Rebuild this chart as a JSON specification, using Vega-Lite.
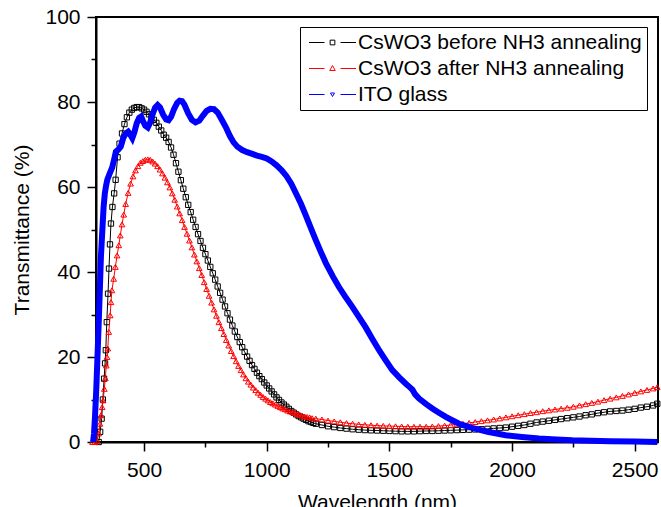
{
  "$schema": "https://vega.github.io/schema/vega-lite/v6.json",
  "width": 562,
  "height": 425,
  "autosize": "none",
  "padding": {"left": 96, "top": 17, "right": 3, "bottom": 65},
  "config": {
    "font": "Liberation Sans",
    "view": {"stroke": "black", "strokeWidth": 2},
    "axis": {
      "domainColor": "black", "domainWidth": 2, "tickColor": "black", "tickWidth": 1.5,
      "labelFont": "Liberation Sans", "labelFontSize": 21, "labelColor": "black",
      "titleFont": "Liberation Sans", "titleFontSize": 21, "titleFontWeight": "normal", "titleColor": "black",
      "grid": false, "labelOverlap": false, "labelFlush": false
    }
  },
  "data": {"values": [
    {"s":"b","w":315,"t":0},{"s":"b","w":321,"t":2.4},{"s":"b","w":327,"t":5.5},{"s":"b","w":332,"t":10},{"s":"b","w":337,"t":14.9},{"s":"b","w":341,"t":18.5},{"s":"b","w":344,"t":21.6},{"s":"b","w":348,"t":28.2},{"s":"b","w":353,"t":34.9},{"s":"b","w":357,"t":40.8},{"s":"b","w":361,"t":46.5},{"s":"b","w":365,"t":51.4},{"s":"b","w":371,"t":55.3},{"s":"b","w":378,"t":58.5},{"s":"b","w":384,"t":61.7},{"s":"b","w":392,"t":67},{"s":"b","w":400,"t":70.2},{"s":"b","w":410,"t":72.6},{"s":"b","w":420,"t":74.8},{"s":"b","w":430,"t":76.4},{"s":"b","w":440,"t":77.5},{"s":"b","w":450,"t":78.2},{"s":"b","w":460,"t":78.6},{"s":"b","w":470,"t":78.8},{"s":"b","w":480,"t":78.8},{"s":"b","w":490,"t":78.5},{"s":"b","w":500,"t":78.2},{"s":"b","w":510,"t":77.7},{"s":"b","w":520,"t":77.1},{"s":"b","w":530,"t":76.5},{"s":"b","w":540,"t":75.8},{"s":"b","w":550,"t":75.1},{"s":"b","w":560,"t":74.2},{"s":"b","w":570,"t":73.3},{"s":"b","w":580,"t":72.3},{"s":"b","w":590,"t":71.6},{"s":"b","w":600,"t":70.6},{"s":"b","w":610,"t":69.3},{"s":"b","w":620,"t":67.6},{"s":"b","w":630,"t":65.6},{"s":"b","w":640,"t":63.6},{"s":"b","w":650,"t":61.6},{"s":"b","w":660,"t":59.6},{"s":"b","w":670,"t":57.6},{"s":"b","w":680,"t":55.8},{"s":"b","w":690,"t":54.1},{"s":"b","w":700,"t":52.3},{"s":"b","w":710,"t":50.6},{"s":"b","w":720,"t":48.9},{"s":"b","w":730,"t":47.3},{"s":"b","w":740,"t":45.7},{"s":"b","w":750,"t":44.2},{"s":"b","w":760,"t":42.7},{"s":"b","w":770,"t":41.2},{"s":"b","w":780,"t":39.7},{"s":"b","w":790,"t":38.2},{"s":"b","w":800,"t":36.6},{"s":"b","w":810,"t":35.1},{"s":"b","w":820,"t":33.5},{"s":"b","w":830,"t":31.9},{"s":"b","w":840,"t":30.3},{"s":"b","w":850,"t":28.8},{"s":"b","w":860,"t":27.4},{"s":"b","w":870,"t":26},{"s":"b","w":880,"t":24.7},{"s":"b","w":890,"t":23.5},{"s":"b","w":900,"t":22.3},{"s":"b","w":910,"t":21.2},{"s":"b","w":920,"t":20.1},{"s":"b","w":930,"t":19.1},{"s":"b","w":940,"t":18.1},{"s":"b","w":950,"t":17.2},{"s":"b","w":960,"t":16.3},{"s":"b","w":970,"t":15.5},{"s":"b","w":980,"t":14.8},{"s":"b","w":990,"t":14},{"s":"b","w":1000,"t":13.3},{"s":"b","w":1010,"t":12.6},{"s":"b","w":1020,"t":11.9},{"s":"b","w":1030,"t":11.2},{"s":"b","w":1040,"t":10.5},{"s":"b","w":1050,"t":9.9},{"s":"b","w":1060,"t":9.3},{"s":"b","w":1070,"t":8.8},{"s":"b","w":1080,"t":8.3},{"s":"b","w":1090,"t":7.8},{"s":"b","w":1100,"t":7.3},{"s":"b","w":1110,"t":6.9},{"s":"b","w":1120,"t":6.5},{"s":"b","w":1130,"t":6.1},{"s":"b","w":1140,"t":5.8},{"s":"b","w":1150,"t":5.5},{"s":"b","w":1160,"t":5.2},{"s":"b","w":1170,"t":4.9},{"s":"b","w":1180,"t":4.7},{"s":"b","w":1190,"t":4.5},{"s":"b","w":1200,"t":4.3},{"s":"b","w":1225,"t":4},{"s":"b","w":1250,"t":3.7},{"s":"b","w":1275,"t":3.5},{"s":"b","w":1300,"t":3.3},{"s":"b","w":1325,"t":3.15},{"s":"b","w":1350,"t":3},{"s":"b","w":1375,"t":2.9},{"s":"b","w":1400,"t":2.8},{"s":"b","w":1425,"t":2.75},{"s":"b","w":1450,"t":2.7},{"s":"b","w":1475,"t":2.65},{"s":"b","w":1500,"t":2.6},{"s":"b","w":1525,"t":2.55},{"s":"b","w":1550,"t":2.5},{"s":"b","w":1575,"t":2.5},{"s":"b","w":1600,"t":2.5},{"s":"b","w":1625,"t":2.55},{"s":"b","w":1650,"t":2.6},{"s":"b","w":1675,"t":2.6},{"s":"b","w":1700,"t":2.65},{"s":"b","w":1725,"t":2.7},{"s":"b","w":1750,"t":2.75},{"s":"b","w":1775,"t":2.8},{"s":"b","w":1800,"t":2.85},{"s":"b","w":1825,"t":2.9},{"s":"b","w":1850,"t":2.95},{"s":"b","w":1875,"t":3},{"s":"b","w":1900,"t":3.1},{"s":"b","w":1925,"t":3.2},{"s":"b","w":1950,"t":3.3},{"s":"b","w":1975,"t":3.4},{"s":"b","w":2000,"t":3.6},{"s":"b","w":2025,"t":3.8},{"s":"b","w":2050,"t":4},{"s":"b","w":2075,"t":4.3},{"s":"b","w":2100,"t":4.6},{"s":"b","w":2125,"t":4.8},{"s":"b","w":2150,"t":5},{"s":"b","w":2175,"t":5.2},{"s":"b","w":2200,"t":5.4},{"s":"b","w":2225,"t":5.6},{"s":"b","w":2250,"t":5.8},{"s":"b","w":2275,"t":6},{"s":"b","w":2300,"t":6.3},{"s":"b","w":2325,"t":6.5},{"s":"b","w":2350,"t":6.8},{"s":"b","w":2375,"t":7},{"s":"b","w":2400,"t":7.2},{"s":"b","w":2425,"t":7.3},{"s":"b","w":2450,"t":7.4},{"s":"b","w":2475,"t":7.6},{"s":"b","w":2500,"t":7.8},{"s":"b","w":2525,"t":8.1},{"s":"b","w":2550,"t":8.3},{"s":"b","w":2575,"t":8.6},{"s":"b","w":2592,"t":9},
    {"s":"a","w":290,"t":0},{"s":"a","w":300,"t":0},{"s":"a","w":308,"t":0.3},{"s":"a","w":315,"t":2},{"s":"a","w":320,"t":4.3},{"s":"a","w":324,"t":6.3},{"s":"a","w":329,"t":8.2},{"s":"a","w":333,"t":9.8},{"s":"a","w":338,"t":12.5},{"s":"a","w":342,"t":15},{"s":"a","w":346,"t":18},{"s":"a","w":349,"t":20},{"s":"a","w":352,"t":22},{"s":"a","w":356,"t":25.9},{"s":"a","w":362,"t":29.8},{"s":"a","w":365,"t":32.9},{"s":"a","w":369,"t":35.7},{"s":"a","w":376,"t":38.4},{"s":"a","w":383,"t":41.2},{"s":"a","w":390,"t":43.9},{"s":"a","w":397,"t":46.3},{"s":"a","w":403,"t":48.6},{"s":"a","w":410,"t":51.2},{"s":"a","w":417,"t":53.5},{"s":"a","w":425,"t":56},{"s":"a","w":435,"t":58.6},{"s":"a","w":445,"t":60.8},{"s":"a","w":455,"t":62.5},{"s":"a","w":465,"t":63.9},{"s":"a","w":475,"t":64.9},{"s":"a","w":485,"t":65.7},{"s":"a","w":495,"t":66.1},{"s":"a","w":505,"t":66.4},{"s":"a","w":515,"t":66.5},{"s":"a","w":525,"t":66.4},{"s":"a","w":535,"t":66},{"s":"a","w":545,"t":65.5},{"s":"a","w":555,"t":64.9},{"s":"a","w":565,"t":64.1},{"s":"a","w":575,"t":63.2},{"s":"a","w":585,"t":62.2},{"s":"a","w":595,"t":61.1},{"s":"a","w":605,"t":59.9},{"s":"a","w":615,"t":58.5},{"s":"a","w":625,"t":57},{"s":"a","w":635,"t":55.4},{"s":"a","w":645,"t":53.8},{"s":"a","w":655,"t":52.2},{"s":"a","w":665,"t":50.6},{"s":"a","w":675,"t":49},{"s":"a","w":685,"t":47.4},{"s":"a","w":695,"t":45.8},{"s":"a","w":705,"t":44.1},{"s":"a","w":715,"t":42.5},{"s":"a","w":725,"t":40.9},{"s":"a","w":735,"t":39.3},{"s":"a","w":745,"t":37.6},{"s":"a","w":755,"t":36},{"s":"a","w":765,"t":34.4},{"s":"a","w":775,"t":32.8},{"s":"a","w":785,"t":31.2},{"s":"a","w":795,"t":29.7},{"s":"a","w":805,"t":28.2},{"s":"a","w":815,"t":26.8},{"s":"a","w":825,"t":25.4},{"s":"a","w":835,"t":24},{"s":"a","w":845,"t":22.7},{"s":"a","w":855,"t":21.4},{"s":"a","w":865,"t":20.2},{"s":"a","w":875,"t":19},{"s":"a","w":885,"t":17.9},{"s":"a","w":895,"t":16.9},{"s":"a","w":905,"t":15.9},{"s":"a","w":915,"t":15},{"s":"a","w":925,"t":14.2},{"s":"a","w":935,"t":13.5},{"s":"a","w":945,"t":12.8},{"s":"a","w":955,"t":12.2},{"s":"a","w":965,"t":11.6},{"s":"a","w":975,"t":11.1},{"s":"a","w":985,"t":10.6},{"s":"a","w":995,"t":10.2},{"s":"a","w":1005,"t":9.8},{"s":"a","w":1015,"t":9.4},{"s":"a","w":1025,"t":9.1},{"s":"a","w":1035,"t":8.8},{"s":"a","w":1045,"t":8.5},{"s":"a","w":1055,"t":8.2},{"s":"a","w":1065,"t":7.9},{"s":"a","w":1075,"t":7.7},{"s":"a","w":1085,"t":7.4},{"s":"a","w":1095,"t":7.2},{"s":"a","w":1105,"t":7},{"s":"a","w":1115,"t":6.8},{"s":"a","w":1125,"t":6.6},{"s":"a","w":1135,"t":6.4},{"s":"a","w":1145,"t":6.2},{"s":"a","w":1155,"t":6},{"s":"a","w":1165,"t":5.9},{"s":"a","w":1175,"t":5.8},{"s":"a","w":1185,"t":5.6},{"s":"a","w":1200,"t":5.5},{"s":"a","w":1225,"t":5.3},{"s":"a","w":1250,"t":5.05},{"s":"a","w":1275,"t":4.85},{"s":"a","w":1300,"t":4.65},{"s":"a","w":1325,"t":4.45},{"s":"a","w":1350,"t":4.3},{"s":"a","w":1375,"t":4.15},{"s":"a","w":1400,"t":4.05},{"s":"a","w":1425,"t":3.95},{"s":"a","w":1450,"t":3.85},{"s":"a","w":1475,"t":3.8},{"s":"a","w":1500,"t":3.75},{"s":"a","w":1525,"t":3.7},{"s":"a","w":1550,"t":3.65},{"s":"a","w":1575,"t":3.6},{"s":"a","w":1600,"t":3.6},{"s":"a","w":1625,"t":3.6},{"s":"a","w":1650,"t":3.6},{"s":"a","w":1675,"t":3.65},{"s":"a","w":1700,"t":3.75},{"s":"a","w":1725,"t":3.85},{"s":"a","w":1750,"t":4},{"s":"a","w":1775,"t":4.15},{"s":"a","w":1800,"t":4.3},{"s":"a","w":1825,"t":4.5},{"s":"a","w":1850,"t":4.7},{"s":"a","w":1875,"t":4.9},{"s":"a","w":1900,"t":5.1},{"s":"a","w":1925,"t":5.3},{"s":"a","w":1950,"t":5.55},{"s":"a","w":1975,"t":5.8},{"s":"a","w":2000,"t":6.05},{"s":"a","w":2025,"t":6.3},{"s":"a","w":2050,"t":6.55},{"s":"a","w":2075,"t":6.8},{"s":"a","w":2100,"t":7},{"s":"a","w":2125,"t":7.25},{"s":"a","w":2150,"t":7.45},{"s":"a","w":2175,"t":7.65},{"s":"a","w":2200,"t":7.85},{"s":"a","w":2225,"t":8.05},{"s":"a","w":2250,"t":8.3},{"s":"a","w":2275,"t":8.6},{"s":"a","w":2300,"t":8.9},{"s":"a","w":2325,"t":9.2},{"s":"a","w":2350,"t":9.5},{"s":"a","w":2375,"t":9.85},{"s":"a","w":2400,"t":10.2},{"s":"a","w":2425,"t":10.5},{"s":"a","w":2450,"t":10.85},{"s":"a","w":2475,"t":11.2},{"s":"a","w":2500,"t":11.55},{"s":"a","w":2525,"t":11.9},{"s":"a","w":2550,"t":12.25},{"s":"a","w":2575,"t":12.6},{"s":"a","w":2592,"t":12.9},
    {"s":"i","w":292,"t":0},{"s":"i","w":296,"t":2},{"s":"i","w":300,"t":6},{"s":"i","w":305,"t":12.2},{"s":"i","w":310,"t":20},{"s":"i","w":315,"t":27.9},{"s":"i","w":320,"t":36.5},{"s":"i","w":324,"t":43.5},{"s":"i","w":330,"t":50},{"s":"i","w":335,"t":55.3},{"s":"i","w":340,"t":58.5},{"s":"i","w":345,"t":60.3},{"s":"i","w":350,"t":61.7},{"s":"i","w":360,"t":63.2},{"s":"i","w":370,"t":64.6},{"s":"i","w":378,"t":66.5},{"s":"i","w":385,"t":68.3},{"s":"i","w":395,"t":68.8},{"s":"i","w":405,"t":69.5},{"s":"i","w":415,"t":71.5},{"s":"i","w":425,"t":72.6},{"s":"i","w":435,"t":73},{"s":"i","w":445,"t":72.2},{"s":"i","w":452,"t":71.5},{"s":"i","w":460,"t":72.8},{"s":"i","w":470,"t":75},{"s":"i","w":480,"t":76.3},{"s":"i","w":488,"t":76.6},{"s":"i","w":495,"t":75.6},{"s":"i","w":505,"t":74.4},{"s":"i","w":515,"t":74},{"s":"i","w":525,"t":75.2},{"s":"i","w":535,"t":77.2},{"s":"i","w":545,"t":78.7},{"s":"i","w":555,"t":79.3},{"s":"i","w":565,"t":78.7},{"s":"i","w":578,"t":77},{"s":"i","w":590,"t":75.9},{"s":"i","w":600,"t":75.7},{"s":"i","w":610,"t":76.5},{"s":"i","w":622,"t":78.3},{"s":"i","w":635,"t":79.8},{"s":"i","w":645,"t":80.3},{"s":"i","w":655,"t":80.2},{"s":"i","w":665,"t":79.3},{"s":"i","w":680,"t":77.3},{"s":"i","w":695,"t":75.8},{"s":"i","w":710,"t":75.2},{"s":"i","w":725,"t":75.6},{"s":"i","w":740,"t":76.8},{"s":"i","w":755,"t":77.9},{"s":"i","w":770,"t":78.4},{"s":"i","w":785,"t":78.3},{"s":"i","w":800,"t":77.5},{"s":"i","w":815,"t":76},{"s":"i","w":833,"t":74.1},{"s":"i","w":850,"t":72},{"s":"i","w":865,"t":70.5},{"s":"i","w":880,"t":69.5},{"s":"i","w":900,"t":68.7},{"s":"i","w":920,"t":68.2},{"s":"i","w":941,"t":67.8},{"s":"i","w":960,"t":67.4},{"s":"i","w":980,"t":67.1},{"s":"i","w":1000,"t":66.7},{"s":"i","w":1020,"t":66},{"s":"i","w":1040,"t":65.1},{"s":"i","w":1060,"t":64},{"s":"i","w":1080,"t":62.6},{"s":"i","w":1100,"t":60.8},{"s":"i","w":1120,"t":58.4},{"s":"i","w":1140,"t":56},{"s":"i","w":1160,"t":53.2},{"s":"i","w":1180,"t":50.3},{"s":"i","w":1200,"t":47.5},{"s":"i","w":1220,"t":44.8},{"s":"i","w":1241,"t":42.1},{"s":"i","w":1270,"t":38.9},{"s":"i","w":1295,"t":36.4},{"s":"i","w":1320,"t":34.2},{"s":"i","w":1349,"t":31.8},{"s":"i","w":1375,"t":29.5},{"s":"i","w":1404,"t":26.9},{"s":"i","w":1430,"t":24.3},{"s":"i","w":1458,"t":21.6},{"s":"i","w":1485,"t":19.2},{"s":"i","w":1512,"t":16.9},{"s":"i","w":1540,"t":15.2},{"s":"i","w":1567,"t":13.7},{"s":"i","w":1585,"t":12.8},{"s":"i","w":1594,"t":12.3},{"s":"i","w":1605,"t":11.2},{"s":"i","w":1621,"t":10.2},{"s":"i","w":1650,"t":8.9},{"s":"i","w":1675,"t":7.9},{"s":"i","w":1702,"t":6.9},{"s":"i","w":1730,"t":5.9},{"s":"i","w":1760,"t":5},{"s":"i","w":1784,"t":4.3},{"s":"i","w":1810,"t":3.8},{"s":"i","w":1838,"t":3.3},{"s":"i","w":1900,"t":2.4},{"s":"i","w":1974,"t":1.6},{"s":"i","w":2040,"t":1.2},{"s":"i","w":2110,"t":0.8},{"s":"i","w":2180,"t":0.6},{"s":"i","w":2246,"t":0.4},{"s":"i","w":2320,"t":0.3},{"s":"i","w":2400,"t":0.2},{"s":"i","w":2500,"t":0.1},{"s":"i","w":2592,"t":0}
  ]},
  "encoding": {
    "x": {"field": "w", "type": "quantitative", "scale": {"domain": [304, 2595], "nice": false, "zero": false},
      "axis": {"title": "Wavelength (nm)", "values": [500, 750, 1000, 1250, 1500, 1750, 2000, 2250, 2500], "format": "d",
        "labelExpr": "datum.value % 500 === 0 ? datum.label : ''",
        "tickSize": {"condition": {"test": "datum.value % 500 !== 0", "value": 5}, "value": 9},
        "labelPadding": 8, "titlePadding": 11}},
    "y": {"field": "t", "type": "quantitative", "scale": {"domain": [0, 100], "nice": false},
      "axis": {"title": "Transmittance (%)", "values": [0, 10, 20, 30, 40, 50, 60, 70, 80, 90, 100], "format": "d",
        "labelExpr": "datum.value % 20 === 0 ? datum.label : ''",
        "tickSize": {"condition": {"test": "datum.value % 20 !== 0", "value": 5}, "value": 9},
        "labelPadding": 7, "titlePadding": 12}}
  },
  "layer": [
    {
      "transform": [{"filter": "datum.s === 'b'"}],
      "mark": {"type": "line", "strokeWidth": 1},
      "encoding": {
        "color": {"field": "s", "type": "nominal",
          "scale": {"domain": ["b", "a", "i"], "range": ["#000000", "#ff0000", "#0000ff"]},
          "legend": {
            "orient": "none", "legendX": 204, "legendY": 10, "title": null,
            "strokeColor": "black", "fillColor": "white", "padding": 5,
            "labelFont": "Liberation Sans", "labelFontSize": 21, "labelColor": "black", "labelLimit": 500,
            "labelExpr": "datum.value === 'b' ? 'CsWO3 before NH3 annealing' : datum.value === 'a' ? 'CsWO3 after NH3 annealing' : 'ITO glass'",
            "symbolSize": 100, "symbolStrokeWidth": 1, "symbolOffset": 17, "labelOffset": 15, "rowPadding": 4,
            "encode": {"symbols": {"update": {
              "shape": {"signal": "datum.value === 'b' ? 'M-4.7,0H-1.6M1.6,0H4.7M-0.47,-0.47H0.47V0.47H-0.47Z' : datum.value === 'a' ? 'M-4.7,0H-1.6M1.6,0H4.7M0,-0.6L0.55,0.4H-0.55Z' : 'M-4.7,0H-1.6M1.6,0H4.7M0,0.4L0.4,-0.3H-0.4Z'"},
              "fill": {"value": "transparent"},
              "strokeWidth": {"value": 1}
            }}}
          }}
      }
    },
    {
      "transform": [{"filter": "datum.s === 'b'"}],
      "mark": {"type": "point", "shape": "square", "filled": false, "size": 28, "strokeWidth": 1, "color": "#000000", "opacity": 1}
    },
    {
      "transform": [{"filter": "datum.s === 'a'"}],
      "mark": {"type": "line", "strokeWidth": 1, "color": "#ff0000"}
    },
    {
      "transform": [{"filter": "datum.s === 'a'"}],
      "mark": {"type": "point", "shape": "triangle-up", "filled": false, "size": 32, "strokeWidth": 1, "color": "#ff0000", "opacity": 1}
    },
    {
      "transform": [{"filter": "datum.s === 'i'"}],
      "mark": {"type": "line", "strokeWidth": 6, "color": "#0000ff"}
    }
  ]
}
